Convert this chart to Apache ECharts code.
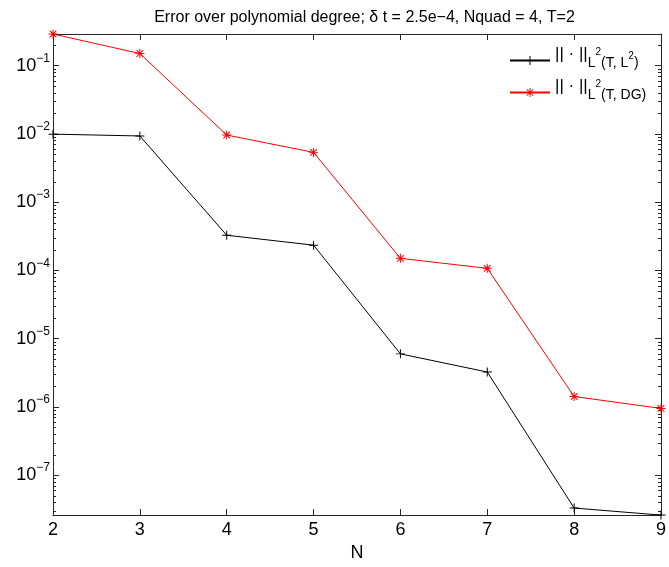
<!DOCTYPE html>
<html>
<head>
<meta charset="utf-8">
<script src="https://cdn.jsdelivr.net/npm/echarts@6/dist/echarts.min.js"></script>
<style>html,body{margin:0;padding:0;background:#fff}#c{width:669px;height:567px}</style>
</head>
<body>
<div id="c"></div>
<script>
// ---- data ----
const degrees = [2, 3, 4, 5, 6, 7, 8, 9];
const errL2L2 = [9.9e-3, 9.3e-3, 3.27e-4, 2.34e-4, 5.98e-6, 3.24e-6, 3.3e-8, 2.6e-8];
const errL2DG = [0.29, 0.150, 9.6e-3, 5.35e-3, 1.50e-4, 1.07e-4, 1.42e-6, 9.5e-7];
const seriesNames = ['L2L2', 'L2DG'];
const titleText = 'Error over polynomial degree; \u03b4 t = 2.5e\u22124, Nquad = 4, T=2';
const xName = 'N';

const FONT = "'Liberation Sans', Arial, Helvetica, sans-serif";
const AX = '#262626';
const allVals = errL2L2.concat(errL2DG);
const yMin = Math.min.apply(null, allVals);
const yMax = Math.max.apply(null, allVals);

// minor tick values (2..9 x 10^n) inside range
const minorVals = [];
for (let n = -9; n <= 0; n++) {
  for (let k = 2; k <= 9; k++) {
    const v = k * Math.pow(10, n);
    if (v > yMin && v < yMax) minorVals.push(v);
  }
}

const plusPath = 'path://M0,4.45H10V5.55H0Z M4.45,0H5.55V10H4.45Z';
const starPath = 'path://M0,4.45H10V5.55H0Z M4.45,0H5.55V10H4.45Z M0.9,1.7L1.7,0.9L9.1,8.3L8.3,9.1Z M8.3,0.9L9.1,1.7L1.7,9.1L0.9,8.3Z';

const legendLabels = {
  L2L2: '{m|||\u00a0\u00b7\u00a0||}{s|L}{p|2}{s|(T, L}{q|2}{s|)}',
  L2DG: '{m|||\u00a0\u00b7\u00a0||}{s|L}{p|2}{s|(T, DG)}'
};

const chart = echarts.init(document.getElementById('c'), null, {renderer: 'canvas'});

function yLabel(v) {
  const lg = Math.log10(v);
  const e = Math.round(lg);
  if (Math.abs(lg - e) > 1e-6) return '';
  return '{b|10}{e|' + (e < 0 ? '\u2212' : '') + Math.abs(e) + '}';
}

const option = {
  backgroundColor: '#fff',
  animation: false,
  title: {
    text: titleText,
    left: 359.5,
    top: 5,
    textAlign: 'center',
    textStyle: {fontFamily: FONT, fontSize: 16, fontWeight: 'normal', color: '#000'}
  },
  grid: {left: 53, right: 3, top: 34, bottom: 49, containLabel: false},
  legend: {
    orient: 'vertical',
    left: 509,
    top: 46,
    padding: 0,
    itemWidth: 40,
    itemHeight: 11,
    itemGap: 3,
    data: seriesNames,
    formatter: function (name) { return legendLabels[name]; },
    textStyle: {
      fontFamily: FONT, color: '#000',
      rich: {
        m: {fontFamily: FONT, fontSize: 17, lineHeight: 17, padding: [0, 0, 12, 0], color: '#000'},
        s: {fontFamily: FONT, fontSize: 14, lineHeight: 14, padding: [10, 0, 5, 0], color: '#000'},
        p: {fontFamily: FONT, fontSize: 10, lineHeight: 10, padding: [1, 0, 18, 0], color: '#000'},
        q: {fontFamily: FONT, fontSize: 10, lineHeight: 10, padding: [5, 0, 14, 0], color: '#000'}
      }
    }
  },
  xAxis: [
    {
      type: 'value', min: 2, max: 9, interval: 1, position: 'bottom',
      name: xName, nameLocation: 'middle', nameGap: 26,
      nameTextStyle: {fontFamily: FONT, fontSize: 18, color: '#000'},
      axisLine: {show: true, lineStyle: {color: AX, width: 1}},
      axisTick: {show: true, inside: true, length: 6, lineStyle: {color: AX}},
      axisLabel: {fontFamily: FONT, fontSize: 18, color: '#000', margin: 6},
      splitLine: {show: false}
    },
    {
      type: 'value', min: 2, max: 9, interval: 1, position: 'top',
      axisLine: {show: true, lineStyle: {color: AX, width: 1}},
      axisTick: {show: true, inside: true, length: 6, lineStyle: {color: AX}},
      axisLabel: {show: false},
      splitLine: {show: false}
    }
  ],
  yAxis: [
    {
      type: 'log', logBase: 10, min: yMin, max: yMax, position: 'left',
      axisLine: {show: true, lineStyle: {color: AX, width: 1}},
      axisTick: {show: true, inside: true, length: 6, lineStyle: {color: AX}},
      axisLabel: {
        formatter: yLabel, margin: 3, color: '#000',
        rich: {
          b: {fontFamily: FONT, fontSize: 18, lineHeight: 18, padding: [4, 0, 4, 0], color: '#000'},
          e: {fontFamily: FONT, fontSize: 12, lineHeight: 12, padding: [0, 0, 14, 0], color: '#000'}
        }
      },
      splitLine: {show: false}
    },
    {
      type: 'log', logBase: 10, min: yMin, max: yMax, position: 'right',
      axisLine: {show: true, lineStyle: {color: AX, width: 1}},
      axisTick: {show: true, inside: true, length: 6, lineStyle: {color: AX}},
      axisLabel: {show: false},
      splitLine: {show: false}
    }
  ],
  series: [
    {
      name: seriesNames[0], type: 'line', xAxisIndex: 0, yAxisIndex: 0,
      data: degrees.map((d, i) => [d, errL2L2[i]]),
      symbol: plusPath, symbolSize: 9, showAllSymbol: true,
      lineStyle: {color: '#000', width: 1},
      itemStyle: {color: '#000'},
      clip: false, z: 3
    },
    {
      name: seriesNames[1], type: 'line', xAxisIndex: 0, yAxisIndex: 0,
      data: degrees.map((d, i) => [d, errL2DG[i]]),
      symbol: starPath, symbolSize: 9, showAllSymbol: true,
      lineStyle: {color: '#ff0000', width: 1},
      itemStyle: {color: '#ff0000'},
      clip: false, z: 4
    },
    {
      type: 'custom', xAxisIndex: 0, yAxisIndex: 0, silent: true, z: 2,
      data: minorVals.map(v => [degrees[0], v]),
      encode: {x: 0, y: 1},
      renderItem: function (params, api) {
        const v = api.value(1);
        const pl = api.coord([degrees[0], v]);
        const pr = api.coord([degrees[degrees.length - 1], v]);
        const y = Math.round(pl[1]) + 0.5;
        return {
          type: 'group',
          children: [
            {type: 'line', shape: {x1: pl[0], y1: y, x2: pl[0] + 3, y2: y}, style: {stroke: AX, lineWidth: 1}},
            {type: 'line', shape: {x1: pr[0] - 3, y1: y, x2: pr[0], y2: y}, style: {stroke: AX, lineWidth: 1}}
          ]
        };
      }
    }
  ]
};
chart.setOption(option);
</script>
</body>
</html>
